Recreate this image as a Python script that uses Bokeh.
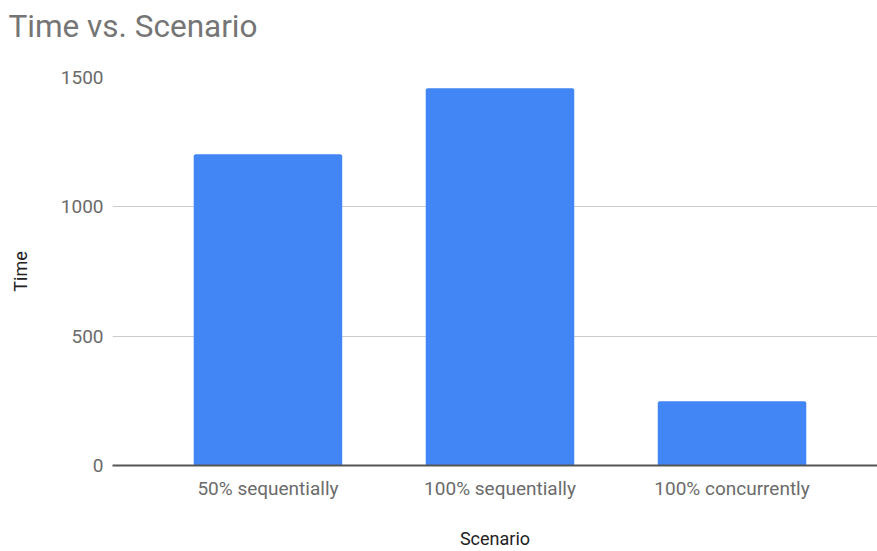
from bokeh.plotting import figure
from bokeh.models import Range1d, FixedTicker, ColumnDataSource, Title
from bokeh.embed import file_html
from bokeh.resources import INLINE

title_text = "Time vs. Scenario"
scenarios = ["50% sequentially", "100% sequentially", "100% concurrently"]
times = [1203, 1458, 248]
y_ticks = [0, 500, 1000, 1500]

pos = list(range(len(scenarios)))
source = ColumnDataSource(data=dict(x=pos, top=times, name=scenarios))

p = figure(width=877, height=551, output_backend="svg", toolbar_location=None,
           x_range=Range1d(-0.670, 2.627), y_range=Range1d(0, 1500),
           min_border_left=112, min_border_right=0, min_border_top=77, min_border_bottom=86)
p.outline_line_color = None
p.background_fill_color = "white"
p.border_fill_color = "white"

p.vbar(x="x", top="top", width=0.64, source=source, fill_color="#4285F4",
       line_color=None, border_radius=(2, 2, 0, 0))

# blank spacer between the frame and the title (first added = nearest the frame)
p.add_layout(Title(text=" ", text_font_size="10px", standoff=12), "above")
p.add_layout(Title(text=title_text, text_font="Roboto", text_font_size="31.5px",
                   text_font_style="normal", text_color="#757575", align="left",
                   vertical_align="top", offset=-104, standoff=11), "above")

font = "Roboto"
p.yaxis.ticker = FixedTicker(ticks=y_ticks)
p.yaxis.axis_line_color = None
p.yaxis.major_tick_line_color = None
p.yaxis.minor_tick_line_color = None
p.yaxis.major_tick_out = 0
p.yaxis.major_tick_in = 0
p.yaxis.minor_tick_out = 0
p.yaxis.major_label_text_font = font
p.yaxis.major_label_text_font_size = "19px"
p.yaxis.major_label_text_color = "#6b6b6b"
p.yaxis.major_label_standoff = 9
p.yaxis.axis_label = "Time"
p.yaxis.axis_label_text_font = font
p.yaxis.axis_label_text_font_size = "18px"
p.yaxis.axis_label_text_font_style = "normal"
p.yaxis.axis_label_text_color = "#222222"
p.yaxis.axis_label_standoff = 27

p.xaxis.ticker = FixedTicker(ticks=pos)
p.xaxis.major_label_overrides = {i: s for i, s in zip(pos, scenarios)}
p.xaxis.axis_line_color = "#555555"
p.xaxis.axis_line_width = 2
p.xaxis.major_tick_line_color = None
p.xaxis.minor_tick_line_color = None
p.xaxis.major_tick_out = 0
p.xaxis.major_tick_in = 0
p.xaxis.minor_tick_out = 0
p.xaxis.major_label_text_font = font
p.xaxis.major_label_text_font_size = "19px"
p.xaxis.major_label_text_color = "#6b6b6b"
p.xaxis.major_label_standoff = 11
p.xaxis.axis_label = "Scenario"
p.xaxis.axis_label_text_font = font
p.xaxis.axis_label_text_font_size = "18px"
p.xaxis.axis_label_text_font_style = "normal"
p.xaxis.axis_label_text_color = "#222222"
p.xaxis.axis_label_standoff = 25

p.xgrid.grid_line_color = None
p.ygrid.grid_line_color = "#cccccc"
p.ygrid.grid_line_width = 1

open("out.html", "w").write(file_html(p, INLINE))
